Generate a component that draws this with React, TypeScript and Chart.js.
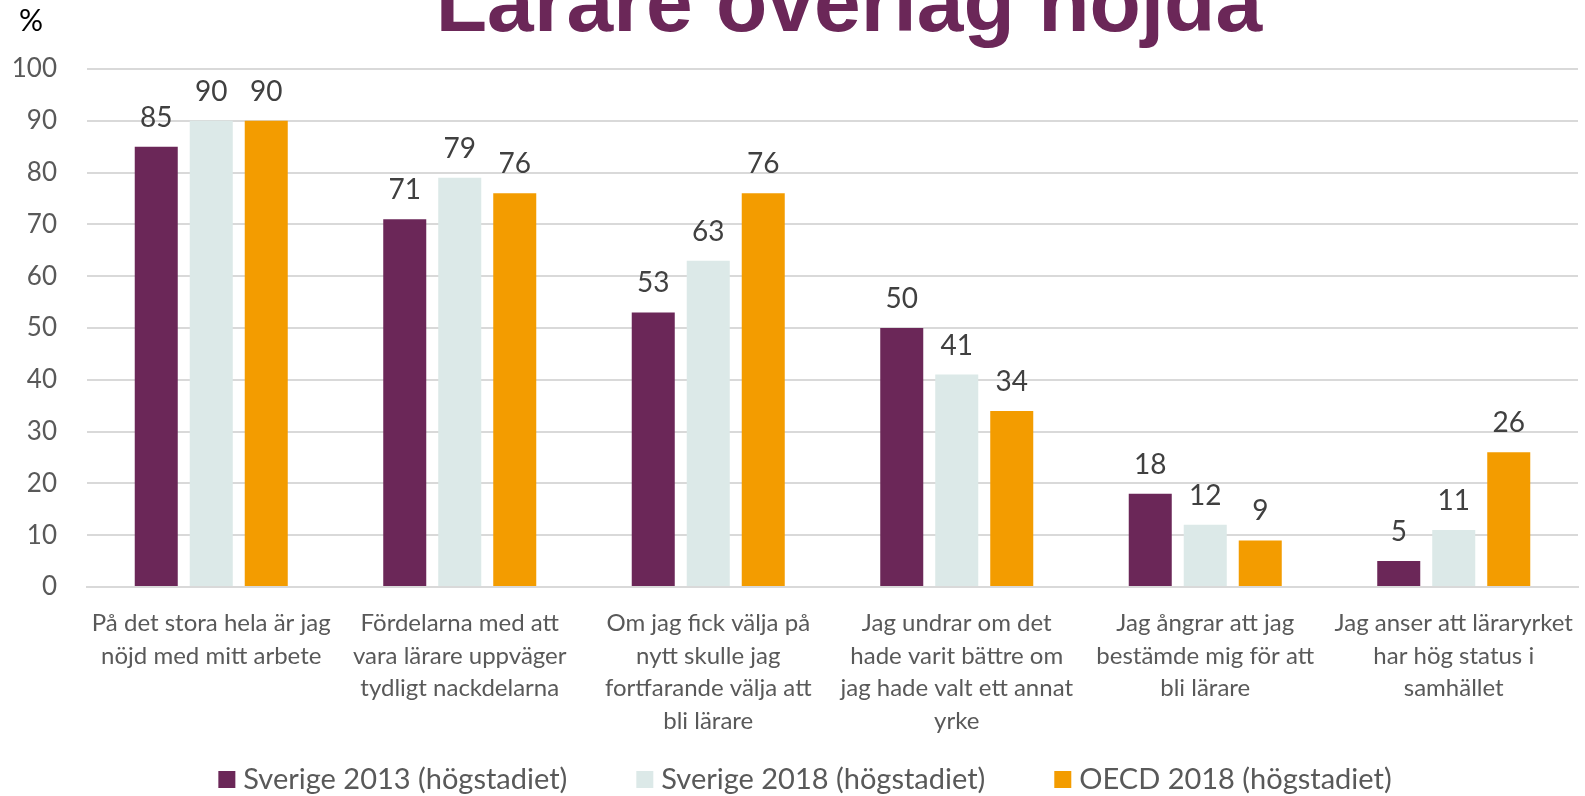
import React, { useEffect, useRef } from "react";
import { Chart, registerables } from "chart.js";

Chart.register(...registerables);

const TITLE = "Lärare överlag nöjda";
const Y_UNIT = "%";

const categories: string[][] = [
  ["På det stora hela är jag", "nöjd med mitt arbete"],
  ["Fördelarna med att", "vara lärare uppväger", "tydligt nackdelarna"],
  ["Om jag fick välja på", "nytt skulle jag", "fortfarande välja att", "bli lärare"],
  ["Jag undrar om det", "hade varit bättre om", "jag hade valt ett annat", "yrke"],
  ["Jag ångrar att jag", "bestämde mig för att", "bli lärare"],
  ["Jag anser att läraryrket", "har hög status i", "samhället"],
];

const seriesNames = [
  "Sverige 2013 (högstadiet)",
  "Sverige 2018 (högstadiet)",
  "OECD 2018 (högstadiet)",
];
const sverige2013 = [85, 71, 53, 50, 18, 5];
const sverige2018 = [90, 79, 63, 41, 12, 11];
const oecd2018 = [90, 76, 76, 34, 9, 26];

const yMin = 0;
const yMax = 100;
const yStep = 10;

const seriesColors = ["#6B2758", "#DCE9E8", "#F39C00"];

const W = 1585;
const H = 796;
const FONT = "Lato, 'Open Sans', sans-serif";
const TEXT = "#595959";

const overlayPlugin = {
  id: "overlay",
  afterDatasetsDraw(chart: any) {
    const ctx = chart.ctx;
    ctx.save();
    ctx.font = `28px ${FONT}`;
    ctx.fillStyle = "#404040";
    ctx.textAlign = "center";
    ctx.textBaseline = "alphabetic";
    chart.data.datasets.forEach((ds: any, i: number) => {
      const meta = chart.getDatasetMeta(i);
      meta.data.forEach((bar: any, j: number) => {
        ctx.fillText(String(ds.data[j]), bar.x, bar.y - 20);
      });
    });
    ctx.restore();
  },
  afterDraw(chart: any) {
    const ctx = chart.ctx;
    ctx.save();
    // Title
    ctx.font = `bold 84px 'Liberation Sans', Arial, sans-serif`;
    ctx.fillStyle = "#6B2758";
    ctx.textAlign = "center";
    ctx.textBaseline = "alphabetic";
    ctx.fillText(TITLE, 849, 31);
    // Unit
    ctx.font = `30px ${FONT}`;
    ctx.fillStyle = "#000000";
    ctx.textAlign = "left";
    ctx.fillText(Y_UNIT, 19, 31);
    // Legend
    ctx.font = `29px ${FONT}`;
    const box = 17;
    const boxGap = 8;
    const itemGap = 69;
    const items = chart.data.datasets.map((ds: any) => ({
      label: ds.label,
      color: ds.backgroundColor,
      w: box + boxGap + ctx.measureText(ds.label).width,
    }));
    const total = items.reduce((s: number, it: any) => s + it.w, 0) + itemGap * (items.length - 1);
    let x = 805 - total / 2;
    const baseY = 789;
    items.forEach((it: any) => {
      ctx.fillStyle = it.color;
      ctx.fillRect(x, 771, box, box);
      ctx.fillStyle = TEXT;
      ctx.fillText(it.label, x + box + boxGap, baseY);
      x += it.w + itemGap;
    });
    ctx.restore();
  },
};

export default function App() {
  const ref = useRef<HTMLCanvasElement | null>(null);
  useEffect(() => {
    if (!ref.current) return;
    const chart = new Chart(ref.current, {
      type: "bar",
      data: {
        labels: categories,
        datasets: [sverige2013, sverige2018, oecd2018].map((d, i) => ({
          label: seriesNames[i],
          data: d,
          backgroundColor: seriesColors[i],
          borderWidth: 0,
          categoryPercentage: 0.664,
          barPercentage: 0.782,
        })),
      },
      options: {
        responsive: false,
        animation: false,
        devicePixelRatio: 1,
        layout: { padding: { top: 69, right: 7, left: 0, bottom: 0 } },
        plugins: {
          legend: { display: false },
          title: { display: false },
          tooltip: { enabled: false },
        },
        scales: {
          y: {
            min: yMin,
            max: yMax,
            ticks: {
              stepSize: yStep,
              font: { family: FONT, size: 26 },
              color: TEXT,
              padding: 30,
            },
            grid: { color: "#D9D9D9", lineWidth: 2, drawTicks: false },
            border: { display: false },
            afterFit: (s: any) => {
              s.width = 87;
            },
          },
          x: {
            ticks: {
              font: { family: FONT, size: 24, lineHeight: 1.36 },
              color: TEXT,
              padding: 20,
              maxRotation: 0,
              minRotation: 0,
              autoSkip: false,
            },
            grid: { display: false, drawTicks: false },
            border: { display: true, color: "#D9D9D9", width: 2 },
            afterFit: (s: any) => {
              s.height = H - 587;
              s.paddingLeft = 0;
              s.paddingRight = 0;
            },
          },
        },
      },
      plugins: [overlayPlugin],
    });
    return () => chart.destroy();
  }, []);
  return (
    <div style={{ position: "fixed", left: 0, top: 0, width: W, height: H, background: "#fff" }}>
      <canvas ref={ref} width={W} height={H} style={{ display: "block" }} />
    </div>
  );
}
